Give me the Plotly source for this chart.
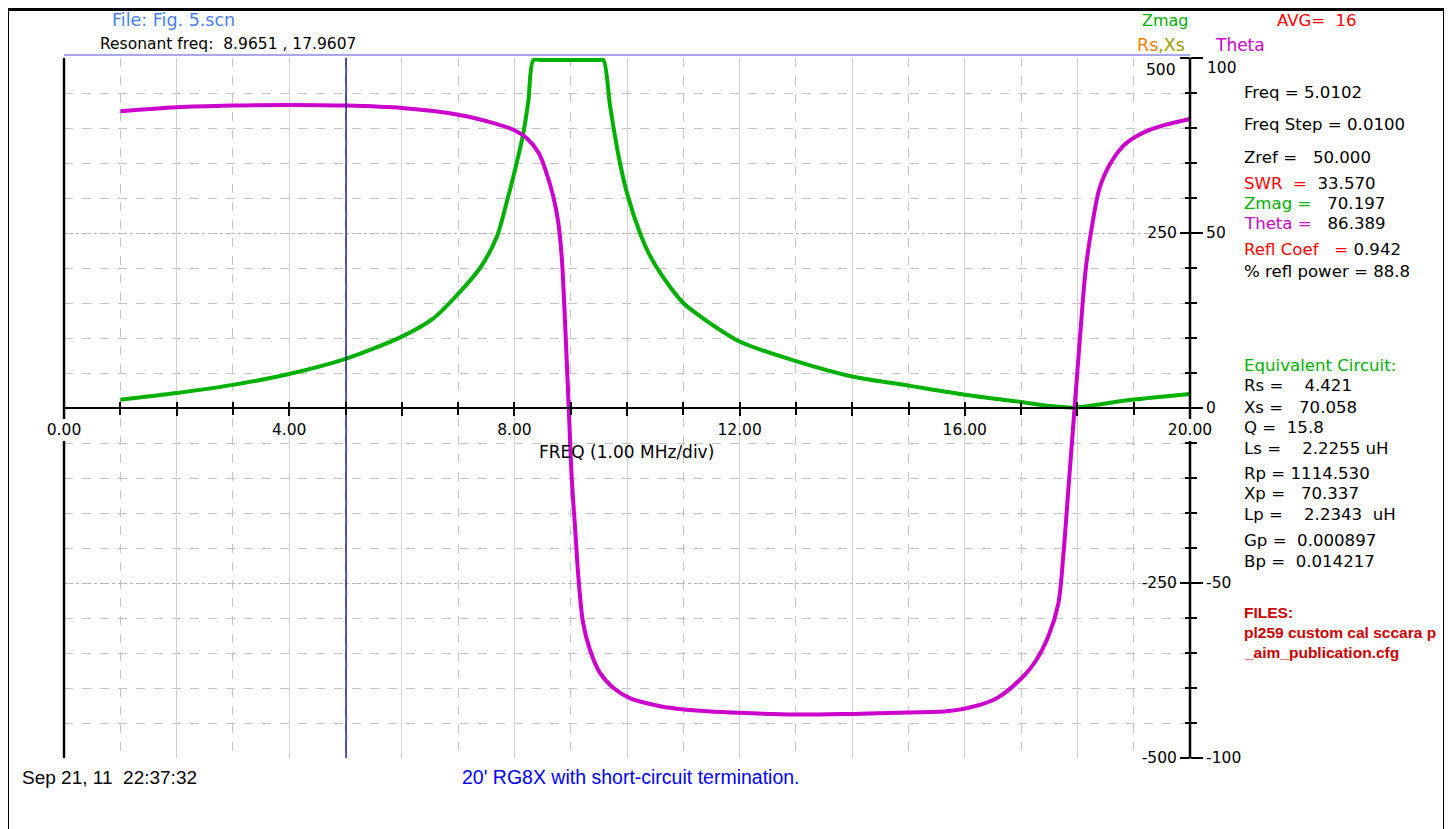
import plotly.graph_objects as go

# ---------------- data ----------------
freq_zmag = [1.0, 2.0, 3.0, 4.0, 5.0, 6.0, 6.56, 7.0, 7.39, 7.69, 7.86, 8.01, 8.16, 8.25, 8.34,
             8.5, 9.0, 9.5, 9.58, 9.70, 9.85, 10.0, 10.23, 10.38, 10.59, 11.0, 11.3, 12.0, 13.0,
             14.0, 15.0, 16.0, 17.0, 17.56, 17.96, 18.5, 19.0, 20.0]
zmag = [11.9, 21.4, 33.0, 48.6, 70.2, 102.0, 128.0, 163.0, 200.0, 245.0, 293.0, 340.0, 393.0, 440.0, 497.0,
        497.0, 497.0, 497.0, 497.0, 431.0, 360.0, 307.0, 250.0, 222.0, 193.0, 150.0, 131.0, 95.0, 67.0,
        45.0, 32.0, 19.0, 8.6, 2.4, 0.5, 6.5, 12.0, 20.0]

freq_theta = [1.0, 2.0, 3.0, 4.0, 5.0, 6.0, 7.0, 7.63, 7.98, 8.22, 8.43, 8.57, 8.69, 8.78, 8.84, 8.90,
              8.965, 9.02, 9.08, 9.14, 9.22, 9.34, 9.52, 9.76, 10.05, 10.59, 11.06, 12.0, 13.0, 14.0,
              15.0, 15.72, 16.31, 16.60, 17.02, 17.25, 17.49, 17.66, 17.75, 17.85, 17.95, 18.05, 18.15,
              18.27, 18.39, 18.57, 18.85, 19.27, 20.0]
theta = [84.8, 85.9, 86.4, 86.6, 86.4, 85.7, 83.8, 81.4, 79.5, 77.1, 72.9, 67.1, 60.5, 52.9, 43.3, 24.3,
         0.0, -20.5, -34.8, -49.0, -61.4, -69.0, -75.7, -80.0, -82.9, -85.2, -86.2, -87.1, -87.6, -87.4,
         -87.0, -86.6, -84.6, -82.6, -77.0, -72.5, -65.0, -56.0, -42.0, -21.0, 0.0, 21.0, 40.0,
         53.0, 62.6, 69.4, 75.4, 79.4, 82.6]

cursor_freq = 5.0102

x_major_vals = list(range(0, 21, 2))
x_major_text = ["0.00", "", "4.00", "", "8.00", "", "12.00", "", "16.00", "", "20.00"]
x_all_vals = list(range(0, 21))
zmag_tick_vals = [-500, -250, 0, 250, 500]
zmag_tick_text = ["-500", "-250", "", "250", ""]
theta_tick_vals = [-100, -50, 0, 50, 100]
theta_tick_text = ["-100", "-50", "0", "50", ""]

# ---------------- layout geometry (page pixels) ----------------
OFF = 8                      # page body margin
W, H = 1452 - OFF, 829 - OFF
L, R, T, B = 64, 1190, 58, 758


def px(x):
    return (x - L) / (R - L)


def py(y):
    return (B - y) / (B - T)


FONT = "DejaVu Sans"
GREEN = "#00b000"
MAGENTA = "#cc00cc"
GRID = "#c4c4c4"

fig = go.Figure()

fig.add_trace(go.Scatter(x=freq_zmag, y=zmag, mode="lines", xaxis="x", yaxis="y",
                         line=dict(color=GREEN, width=4, shape="spline", smoothing=0.8),
                         showlegend=False, hoverinfo="skip"))
fig.add_trace(go.Scatter(x=freq_theta, y=theta, mode="lines", xaxis="x", yaxis="y2",
                         line=dict(color=MAGENTA, width=4, shape="spline", smoothing=0.9),
                         showlegend=False, hoverinfo="skip"))
fig.add_trace(go.Scatter(x=[cursor_freq, cursor_freq], y=[-100, 100], mode="lines",
                         xaxis="x2", yaxis="y2",
                         line=dict(color="#000080", width=1.3),
                         showlegend=False, hoverinfo="skip"))

tickfont = dict(family=FONT, size=15.5, color="black")

fig.update_layout(
    width=W, height=H,
    margin=dict(l=L - OFF, r=W - (R - OFF), t=T - OFF, b=H - (B - OFF), pad=0),
    paper_bgcolor="white", plot_bgcolor="white",
    showlegend=False,
    xaxis=dict(range=[0, 20], anchor="free", position=0.5,
               tickmode="array", tickvals=x_major_vals, ticktext=x_major_text,
               ticks="outside", ticklen=7, tickwidth=2, tickcolor="black",
               minor=dict(dtick=1, ticks="outside", ticklen=6, tickwidth=2, tickcolor="black",
                          showgrid=True, gridcolor=GRID, griddash="dash", gridwidth=1),
               showline=True, linecolor="black", linewidth=2,
               showgrid=True, gridcolor="#d2d2d2", gridwidth=1,
               zeroline=False, tickfont=tickfont),
    xaxis2=dict(range=[0, 20], overlaying="x", anchor="free", position=0.5,
                tickmode="array", tickvals=x_all_vals, ticktext=[""] * len(x_all_vals),
                ticks="inside", ticklen=6, tickwidth=2, tickcolor="black",
                showline=False, showgrid=False, zeroline=False, showticklabels=False),
    yaxis=dict(range=[-500, 500], side="left", anchor="free", position=1.0,
               tickmode="array", tickvals=zmag_tick_vals, ticktext=zmag_tick_text,
               ticks="outside", ticklen=10, tickwidth=2, tickcolor="black",
               minor=dict(dtick=50, ticks="outside", ticklen=5, tickwidth=2, tickcolor="black",
                          showgrid=True, gridcolor=GRID, griddash="dash", gridwidth=1),
               showgrid=True, gridcolor="#b4b4b4", griddash="dot", gridwidth=1,
               zeroline=False, showline=False, tickfont=tickfont),
    yaxis2=dict(range=[-100, 100], overlaying="y", side="right",
                tickmode="array", tickvals=theta_tick_vals, ticktext=theta_tick_text,
                ticks="outside", ticklen=12, tickwidth=2, tickcolor="black",
                minor=dict(dtick=10, ticks="outside", ticklen=6, tickwidth=2, tickcolor="black"),
                showline=False,
                showgrid=False, zeroline=False, tickfont=tickfont),
)

shapes = [
    # outer frame
    dict(type="rect", xref="paper", yref="paper",
         x0=px(7.5), x1=px(1444.5), y0=py(840), y1=py(9.5),
         line=dict(color="black", width=3), fillcolor="rgba(0,0,0,0)", layer="above"),
    # left axis line (broken behind the 0.00 label)
    dict(type="line", xref="paper", yref="paper", x0=0, x1=0, y0=py(419), y1=1,
         line=dict(color="black", width=2.5), layer="above"),
    dict(type="line", xref="paper", yref="paper", x0=0, x1=0, y0=0, y1=py(441),
         line=dict(color="black", width=2.5), layer="above"),
    # right axis line (broken behind the 20.00 label)
    dict(type="line", xref="paper", yref="paper", x0=1, x1=1, y0=py(419), y1=1,
         line=dict(color="black", width=2.5), layer="above"),
    dict(type="line", xref="paper", yref="paper", x0=1, x1=1, y0=0, y1=py(441),
         line=dict(color="black", width=2.5), layer="above"),
    # lavender top rule
    dict(type="line", xref="paper", yref="paper", x0=0, x1=1, y0=py(55), y1=py(55),
         line=dict(color="#a8a8f0", width=2), layer="above"),
]
fig.update_layout(shapes=shapes)

NB = "\u00a0"


def seg(parts):
    out = ""
    for text, color in parts:
        out += '<span style="color:%s">%s</span>' % (color, text.replace(" ", NB))
    return out


annotations = []


def ann(text, x, y, size=16, family=FONT, color="black", xanchor="left"):
    annotations.append(dict(text=text, x=px(x), y=py(y), xref="paper", yref="paper",
                            xanchor=xanchor, yanchor="middle", showarrow=False,
                            font=dict(family=family, size=size, color=color)))


ann(seg([("File: Fig. 5.scn", "#4a7ff0")]), 110, 20, size=17.5)
ann(seg([("Resonant freq:  8.9651 , 17.9607", "black")]), 98, 44, size=15.5)
ann(seg([("Zmag", GREEN)]), 1140, 20, size=16)
ann(seg([("AVG=  16", "#ff0000")]), 1275, 20, size=16.5)
ann(seg([("Rs", "#ff8000"), (",Xs", "#a0a000")]), 1135, 45, size=17.5)
ann(seg([("Theta", MAGENTA)]), 1213, 45, size=17)

# top tick labels that sit just below the top tick
ann(seg([("500", "black")]), 1178, 70, size=15.5, xanchor="right")
ann(seg([("100", "black")]), 1205, 68, size=15.5)

PX = 1242
panel = [
    (92, [("Freq = 5.0102", "black")]),
    (124, [("Freq Step = 0.0100", "black")]),
    (157, [("Zref =   50.000", "black")]),
    (183, [("SWR  =", "#ff0000"), ("  33.570", "black")]),
    (203, [("Zmag =", GREEN), ("   70.197", "black")]),
    (223, [("Theta =", MAGENTA), ("   86.389", "black")]),
    (250, [("Refl Coef   =", "#ff0000"), (" 0.942", "black")]),
    (271, [("% refl power = 88.8", "black")]),
    (365, [("Equivalent Circuit:", GREEN)]),
    (386, [("Rs =    4.421", "black")]),
    (407, [("Xs =   70.058", "black")]),
    (427, [("Q =  15.8", "black")]),
    (448, [("Ls =    2.2255 uH", "black")]),
    (473, [("Rp = 1114.530", "black")]),
    (494, [("Xp =   70.337", "black")]),
    (514, [("Lp =    2.2343  uH", "black")]),
    (540, [("Gp =  0.000897", "black")]),
    (561, [("Bp =  0.014217", "black")]),
]
for y, parts in panel:
    ann(seg(parts), PX, y, size=16.6)

for y, t in [(612, "FILES:"), (632, "pl259 custom cal sccara p"), (652, "_aim_publication.cfg")]:
    ann("<b>" + seg([(t, "#cc0000")]) + "</b>", PX, y, size=15.5, family="Liberation Sans")

ann(seg([("FREQ (1.00 MHz/div)", "black")]), 626, 452, size=17, xanchor="center")
ann(seg([("Sep 21, 11  22:37:32", "black")]), 20, 777, size=19, family="Liberation Sans")
ann(seg([("20' RG8X with short-circuit termination.", "#0000ff")]), 460, 777, size=19.5,
    family="Liberation Sans")

fig.update_layout(annotations=annotations)

fig.write_html("out.html")
